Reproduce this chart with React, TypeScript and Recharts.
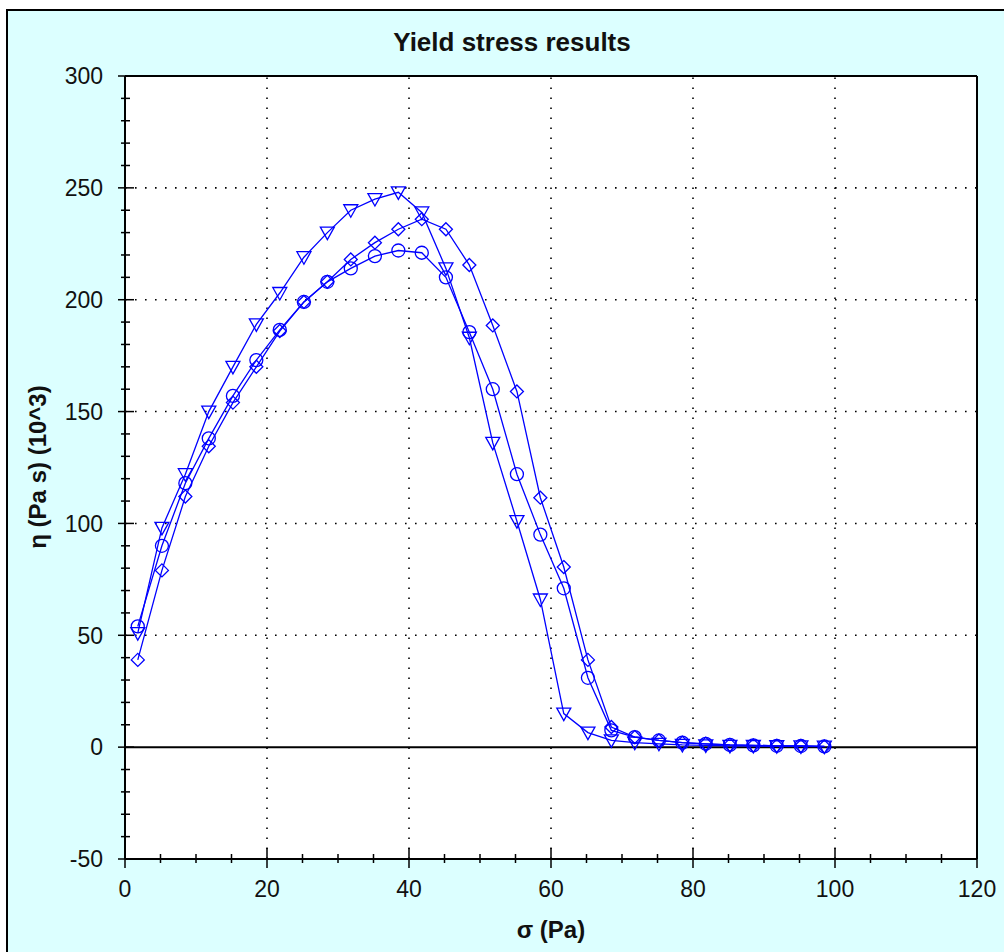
import React from 'react';
import { LineChart, Line, XAxis, YAxis, ReferenceLine, CartesianGrid } from 'recharts';

// Shear stress σ (Pa) for every measurement step
const stress = [
  1.8, 5.2, 8.5, 11.8, 15.2, 18.5, 21.8, 25.2, 28.5, 31.8,
  35.2, 38.5, 41.8, 45.2, 48.5, 51.8, 55.2, 58.5, 61.8, 65.2,
  68.5, 71.8, 75.2, 78.5, 81.8, 85.2, 88.5, 91.8, 95.2, 98.5,
];

// Viscosity η (Pa s, ×10^3) for the three runs
const etaTriangle = [
  51, 98, 122, 150, 170, 189, 203, 219, 230, 240,
  245, 248, 239, 214, 183, 136, 101, 66, 15, 6.5,
  3, 2, 1.5, 1, 0.8, 0.6, 0.5, 0.4, 0.3, 0.2,
];
const etaCircle = [
  54, 90, 118, 138, 157, 173, 186.5, 199, 208, 214,
  219.5, 222, 221, 210, 185.5, 160, 122, 95, 71, 31,
  7.5, 4.5, 3, 2, 1.5, 1, 0.8, 0.6, 0.5, 0.3,
];
const etaDiamond = [
  39, 79, 112, 134.5, 154, 170, 186, 199, 208, 218,
  225.5, 231.5, 236, 231.5, 215.5, 188.5, 159, 111.5, 80.5, 39,
  9, 4.5, 3, 2, 1.5, 1, 0.8, 0.6, 0.5, 0.3,
];

// Axis ticks
const xMajorTicks = [0, 20, 40, 60, 80, 100, 120];
const xMinorStep = 5;
const yMajorTicks = [-50, 0, 50, 100, 150, 200, 250, 300];
const yMinorStep = 10;
const xGridLines = [20, 40, 60, 80, 100];
const yGridLines = [50, 100, 150, 200, 250];

const title = 'Yield stress results';
const xLabel = 'σ (Pa)';
const yLabel = 'η (Pa s) (10^3)';

const BLUE = '#0000ff';
const FONT = '"Liberation Sans", Arial, sans-serif';

const range = (a: number, b: number, step: number) => {
  const out: number[] = [];
  for (let v = a; v <= b + 1e-9; v += step) out.push(v);
  return out;
};
const xAllTicks = range(xMajorTicks[0], xMajorTicks[xMajorTicks.length - 1], xMinorStep);
const yAllTicks = range(yMajorTicks[0], yMajorTicks[yMajorTicks.length - 1], yMinorStep);
const isXMajor = (v: number) => xMajorTicks.includes(v);
const isYMajor = (v: number) => yMajorTicks.includes(v);

const toPoints = (ys: number[]) => stress.map((x, i) => ({ x, y: ys[i] }));
const triangleData = toPoints(etaTriangle);
const circleData = toPoints(etaCircle);
const diamondData = toPoints(etaDiamond);

const TriangleDot = (p: any) => {
  const { cx, cy } = p;
  if (cx == null || cy == null) return <g key={`t${p.index}`} />;
  return (
    <polygon
      key={`t${p.index}`}
      points={`${cx - 7},${cy - 5.5} ${cx + 7},${cy - 5.5} ${cx},${cy + 7}`}
      fill="none"
      stroke={BLUE}
      strokeWidth={1.3}
    />
  );
};
const CircleDot = (p: any) => {
  const { cx, cy } = p;
  if (cx == null || cy == null) return <g key={`c${p.index}`} />;
  return <circle key={`c${p.index}`} cx={cx} cy={cy} r={6.5} fill="none" stroke={BLUE} strokeWidth={1.3} />;
};
const DiamondDot = (p: any) => {
  const { cx, cy } = p;
  if (cx == null || cy == null) return <g key={`d${p.index}`} />;
  return (
    <polygon
      key={`d${p.index}`}
      points={`${cx},${cy - 6.5} ${cx + 6.5},${cy} ${cx},${cy + 6.5} ${cx - 6.5},${cy}`}
      fill="none"
      stroke={BLUE}
      strokeWidth={1.3}
    />
  );
};

const tickText = { fontFamily: FONT, fontSize: 23, fill: '#111' };

const BottomTick = (p: any) => {
  const { x, y, payload } = p;
  const v = payload.value;
  if (isXMajor(v)) {
    return (
      <g>
        <line x1={x} x2={x} y1={y - 11} y2={y + 9} stroke="#000" strokeWidth={1.5} />
        <text x={x} y={y + 30} dy="0.36em" textAnchor="middle" {...tickText}>{v}</text>
      </g>
    );
  }
  return <line x1={x} x2={x} y1={y - 5} y2={y + 4} stroke="#000" strokeWidth={1.5} />;
};
const TopTick = (p: any) => {
  const { x, y, payload } = p;
  const len = isXMajor(payload.value) ? 9 : 4;
  return <line x1={x} x2={x} y1={y} y2={y + len} stroke="#000" strokeWidth={1.5} />;
};
const LeftTick = (p: any) => {
  const { x, y, payload } = p;
  const v = payload.value;
  if (isYMajor(v)) {
    return (
      <g>
        <line x1={x - 7} x2={x + 9} y1={y} y2={y} stroke="#000" strokeWidth={1.5} />
        <text x={x - 22} y={y} dy="0.36em" textAnchor="end" {...tickText}>{v}</text>
      </g>
    );
  }
  return <line x1={x - 4} x2={x + 5} y1={y} y2={y} stroke="#000" strokeWidth={1.5} />;
};
const RightTick = (p: any) => {
  const { x, y, payload } = p;
  const len = isYMajor(payload.value) ? 9 : 4;
  return <line x1={x - len} x2={x} y1={y} y2={y} stroke="#000" strokeWidth={1.5} />;
};

const axisLine = { stroke: '#000', strokeWidth: 2 };

export default function App() {
  return (
    <div style={{ position: 'absolute', left: 0, top: 0, width: 1004, height: 952, overflow: 'hidden', background: '#fff' }}>
      <div
        style={{
          position: 'absolute',
          left: 6,
          top: 9,
          width: 1020,
          height: 960,
          background: '#dcffff',
          border: '2px solid #000',
          boxSizing: 'border-box',
        }}
      />
      <div style={{ position: 'absolute', left: 0, top: 0 }}>
        <LineChart width={1004} height={952} margin={{ top: 75, right: 26, bottom: 92, left: 124 }}>
          <CartesianGrid xAxisId="b" yAxisId="l" horizontal={false} vertical={false} fill="#ffffff" fillOpacity={1} />
          <XAxis
            xAxisId="b"
            type="number"
            dataKey="x"
            domain={[0, 120]}
            ticks={xAllTicks}
            interval={0}
            height={1}
            tickSize={0}
            tickMargin={0}
            tickLine={false}
            axisLine={axisLine}
            tick={BottomTick}
          />
          <XAxis
            xAxisId="t"
            orientation="top"
            type="number"
            dataKey="x"
            domain={[0, 120]}
            ticks={xAllTicks}
            interval={0}
            height={1}
            tickSize={0}
            tickMargin={0}
            tickLine={false}
            axisLine={axisLine}
            tick={TopTick}
          />
          <YAxis
            yAxisId="l"
            type="number"
            domain={[-50, 300]}
            ticks={yAllTicks}
            interval={0}
            width={1}
            tickSize={0}
            tickMargin={0}
            tickLine={false}
            axisLine={axisLine}
            tick={LeftTick}
          />
          <YAxis
            yAxisId="r"
            orientation="right"
            type="number"
            domain={[-50, 300]}
            ticks={yAllTicks}
            interval={0}
            width={1}
            tickSize={0}
            tickMargin={0}
            tickLine={false}
            axisLine={axisLine}
            tick={RightTick}
          />
          {xGridLines.map((v) => (
            <ReferenceLine key={`gx${v}`} xAxisId="b" yAxisId="l" x={v} stroke="#000" strokeWidth={1.6} strokeDasharray="1.6 8.4" />
          ))}
          {yGridLines.map((v) => (
            <ReferenceLine key={`gy${v}`} xAxisId="b" yAxisId="l" y={v} stroke="#000" strokeWidth={1.6} strokeDasharray="1.6 8.4" />
          ))}
          <ReferenceLine xAxisId="b" yAxisId="l" y={0} stroke="#000" strokeWidth={2} />
          <Line
            xAxisId="b"
            yAxisId="l"
            data={triangleData}
            dataKey="y"
            stroke={BLUE}
            strokeWidth={1.3}
            dot={TriangleDot}
            activeDot={false}
            isAnimationActive={false}
            type="linear"
          />
          <Line
            xAxisId="b"
            yAxisId="l"
            data={circleData}
            dataKey="y"
            stroke={BLUE}
            strokeWidth={1.3}
            dot={CircleDot}
            activeDot={false}
            isAnimationActive={false}
            type="linear"
          />
          <Line
            xAxisId="b"
            yAxisId="l"
            data={diamondData}
            dataKey="y"
            stroke={BLUE}
            strokeWidth={1.3}
            dot={DiamondDot}
            activeDot={false}
            isAnimationActive={false}
            type="linear"
          />
        </LineChart>
      </div>
      <div
        style={{
          position: 'absolute',
          left: 0,
          width: 1024,
          top: 26,
          textAlign: 'center',
          fontFamily: FONT,
          fontWeight: 'bold',
          fontSize: 26,
          lineHeight: '32px',
          color: '#111',
        }}
      >
        {title}
      </div>
      <div
        style={{
          position: 'absolute',
          left: 451,
          width: 200,
          top: 914,
          textAlign: 'center',
          fontFamily: FONT,
          fontWeight: 'bold',
          fontSize: 24,
          lineHeight: '32px',
          color: '#111',
        }}
      >
        {xLabel}
      </div>
      <div
        style={{
          position: 'absolute',
          left: 38 - 150,
          top: 467 - 16,
          width: 300,
          height: 32,
          transform: 'rotate(-90deg)',
          textAlign: 'center',
          fontFamily: FONT,
          fontWeight: 'bold',
          fontSize: 24,
          lineHeight: '32px',
          color: '#111',
        }}
      >
        {yLabel}
      </div>
    </div>
  );
}
